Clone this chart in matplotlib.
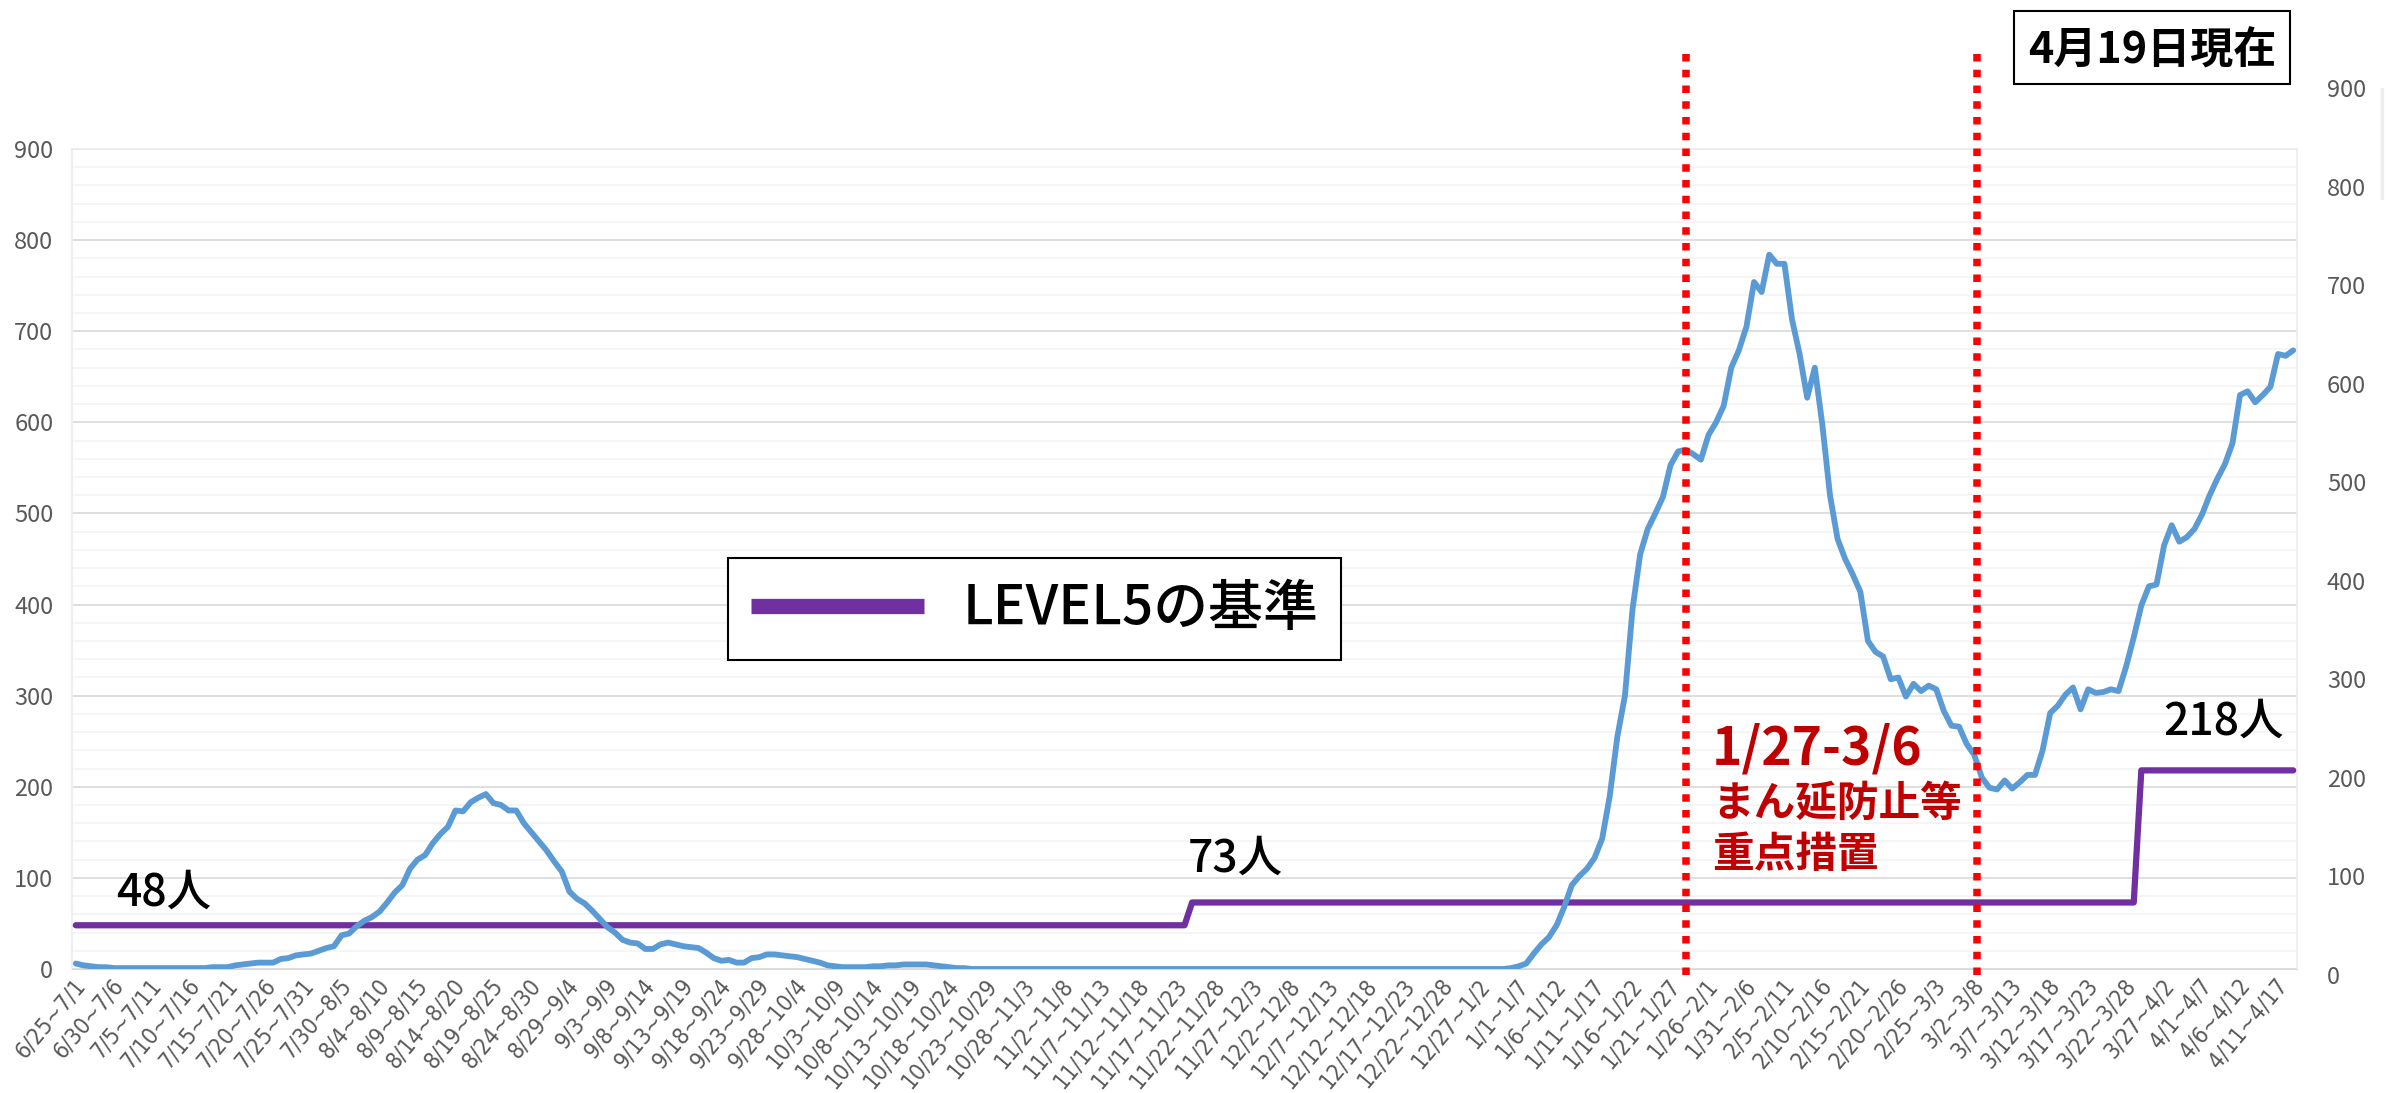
import numpy as np
import matplotlib.pyplot as plt
import matplotlib.transforms as mtransforms
from matplotlib.lines import Line2D
from matplotlib.patches import Rectangle

plt.rcParams['font.family'] = ['Noto Sans CJK JP', 'DejaVu Sans']

# 7日間の新規感染者数(6/25~ 毎日)
blue = [
    6, 4, 3, 2, 2, 1, 1, 1, 1, 1,
    1, 1, 1, 1, 1, 1, 1, 1, 2, 2,
    2, 4, 5, 6, 7, 7, 7, 11, 12, 15,
    16, 17, 20, 23, 25, 37, 39, 47, 53, 57,
    63, 73, 84, 92, 110, 120, 125, 138, 148, 156,
    174, 173, 183, 188, 192, 182, 180, 174, 174, 160,
    150, 140, 130, 118, 107, 85, 77, 72, 64, 55,
    46, 40, 32, 29, 28, 22, 22, 27, 29, 27,
    25, 24, 23, 18, 12, 9, 10, 7, 7, 12,
    13, 16, 16, 15, 14, 13, 11, 9, 7, 4,
    3, 2, 2, 2, 2, 3, 3, 4, 4, 5,
    5, 5, 5, 4, 3, 2, 1, 1, 0, 0,
    0, 0, 0, 0, 0, 0, 0, 0, 0, 0,
    0, 0, 0, 0, 0, 0, 0, 0, 0, 0,
    0, 0, 0, 0, 0, 0, 0, 0, 0, 0,
    0, 0, 0, 0, 0, 0, 0, 0, 0, 0,
    0, 0, 0, 0, 0, 0, 0, 0, 0, 0,
    0, 0, 0, 0, 0, 0, 0, 0, 0, 0,
    0, 0, 0, 0, 0, 0, 0, 0, 0, 1,
    3, 6, 17, 27, 35, 48, 68, 92, 102, 110,
    122, 143, 190, 255, 300, 395, 455, 483, 500, 518,
    553, 568, 570, 565, 559, 586, 600, 618, 660, 679,
    705, 754, 743, 784, 774, 774, 713, 675, 627, 660,
    597, 520, 472, 450, 433, 414, 360, 348, 343, 318,
    320, 299, 313, 305, 311, 307, 283, 267, 266, 247,
    235, 210, 199, 197, 207, 198, 205, 213, 213, 240,
    281, 289, 301, 309, 285, 307, 303, 304, 307, 305,
    332, 364, 399, 420, 422, 465, 487, 469, 474, 483,
    499, 520, 538, 554, 577, 630, 634, 622, 630, 639,
    675, 673, 679,
]

# LEVEL5の基準 (値と開始位置)
level_values = [48, 73, 218]
level_start = [0, 147, 272]
level_labels = ['48人', '73人', '218人']

# 重点措置期間の線 (カテゴリ位置)
measure_lines = [212.1, 250.4]

tick_step = 5
tick_labels = [
    '6/25~7/1', '6/30~7/6', '7/5~7/11', '7/10~7/16', '7/15~7/21', '7/20~7/26',
    '7/25~7/31', '7/30~8/5', '8/4~8/10', '8/9~8/15', '8/14~8/20', '8/19~8/25',
    '8/24~8/30', '8/29~9/4', '9/3~9/9', '9/8~9/14', '9/13~9/19', '9/18~9/24',
    '9/23~9/29', '9/28~10/4', '10/3~10/9', '10/8~10/14', '10/13~10/19',
    '10/18~10/24', '10/23~10/29', '10/28~11/3', '11/2~11/8', '11/7~11/13',
    '11/12~11/18', '11/17~11/23', '11/22~11/28', '11/27~12/3', '12/2~12/8',
    '12/7~12/13', '12/12~12/18', '12/17~12/23', '12/22~12/28', '12/27~1/2',
    '1/1~1/7', '1/6~1/12', '1/11~1/17', '1/16~1/22', '1/21~1/27', '1/26~2/1',
    '1/31~2/6', '2/5~2/11', '2/10~2/16', '2/15~2/21', '2/20~2/26', '2/25~3/3',
    '3/2~3/8', '3/7~3/13', '3/12~3/18', '3/17~3/23', '3/22~3/28', '3/27~4/2',
    '4/1~4/7', '4/6~4/12', '4/11~4/17',
]

W, H = 2389, 1093
n = len(blue)
x = np.arange(n)
level = np.repeat(level_values, np.diff(level_start + [n]))

def fx(px):
    return px / W

def fy(py):
    return 1 - py / H

fig = plt.figure(figsize=(W / 100, H / 100), dpi=100)
ax = fig.add_axes([fx(72), fy(969), 2225 / W, 820 / H])

ax.set_xlim(-0.5, n - 0.5)
ax.set_ylim(0, 900)
ax.set_yticks(range(0, 901, 100))
ax.set_yticks(range(0, 901, 20), minor=True)
ax.grid(which='minor', axis='y', color='#f2f2f2', lw=1.1)
ax.grid(which='major', axis='y', color='#d9d9d9', lw=1.2)
ax.set_axisbelow(True)
for s in ['left', 'top', 'right']:
    ax.spines[s].set_color('#ececec')
    ax.spines[s].set_linewidth(1.2)
ax.spines['bottom'].set_color('#d9d9d9')
ax.tick_params(axis='y', which='both', length=0, labelsize=17,
               labelcolor='#595959', pad=13.5)

ax.set_xticks(x[::tick_step])
ax.set_xticklabels(tick_labels, rotation=50, ha='right', va='center',
                   rotation_mode='anchor', fontsize=16.5, color='#595959',
                   family=['Liberation Sans Narrow', 'DejaVu Sans'],
                   fontstretch='condensed')
ax.tick_params(axis='x', length=0, pad=9)
shift = mtransforms.ScaledTranslation(6 / 100, 0, fig.dpi_scale_trans)
for lab in ax.get_xticklabels():
    lab.set_transform(lab.get_transform() + shift)

ax.plot(x, level, color='#7030a0', lw=4.5, solid_capstyle='round', zorder=3)
ax.plot(x, blue, color='#5b9bd5', lw=4.2, solid_capstyle='round',
        solid_joinstyle='round', zorder=4)

for xv in measure_lines:
    ax.plot([xv, xv], [-6.6, 1013], color='#ff0000', lw=5.4,
            linestyle=(0, (1, 1.1)), dash_capstyle='butt', clip_on=False,
            zorder=5)

# 右側の目盛
ax_r = fig.add_axes([fx(72), fy(975), 2225 / W, 887 / H])
ax_r.set_ylim(0, 900)
ax_r.set_xticks([])
ax_r.set_yticks(range(0, 901, 100))
ax_r.yaxis.tick_right()
ax_r.patch.set_visible(False)
for s in ax_r.spines.values():
    s.set_visible(False)
ax_r.tick_params(axis='y', length=0, labelsize=17, labelcolor='#595959',
                 pad=21.5)

# 凡例
handle = Line2D([], [], color='#7030a0', lw=11, solid_capstyle='butt')
leg = ax.legend([handle], ['LEVEL5の基準'], loc='upper left',
                bbox_to_anchor=(fx(728), fy(558)), bbox_transform=fig.transFigure,
                fontsize=39.5, frameon=True, fancybox=False, edgecolor='black',
                framealpha=1, borderaxespad=0, handlelength=3.15,
                handletextpad=0.7, borderpad=0.42,
                prop={'size': 39.5, 'weight': 'medium'})
leg.get_frame().set_linewidth(1.5)
leg.set_zorder(6)

# 基準値ラベル
label_pos = [(116, 906), (1188, 872), (2163, 735)]
for txt, (px, py) in zip(level_labels, label_pos):
    fig.text(fx(px), fy(py), txt, ha='left', va='baseline', fontsize=32,
             color='black', fontweight='medium')

# 重点措置の注記
fig.text(fx(1712), fy(765), '1/27-3/6', ha='left', va='baseline',
         fontsize=37, color='#c00000', fontweight='semibold')
fig.text(fx(1712), fy(816), 'まん延防止等', ha='left', va='baseline',
         fontsize=30, color='#c00000', fontweight='semibold')
fig.text(fx(1712), fy(867), '重点措置', ha='left', va='baseline',
         fontsize=30, color='#c00000', fontweight='semibold')

# 日付ボックス
fig.add_artist(Rectangle((fx(2014), fy(84)), 276 / W, 73 / H, facecolor='white',
                         edgecolor='black', lw=1.5, transform=fig.transFigure))
fig.text(fx(2152), fy(64), '4月19日現在', ha='center', va='baseline',
         fontsize=31, color='black', fontweight='bold')

fig.add_artist(Line2D([fx(2382), fx(2382)], [fy(89), fy(198)], color='#eeeeee',
                      lw=2.5, transform=fig.transFigure))

fig.savefig('out.png', dpi=100)
